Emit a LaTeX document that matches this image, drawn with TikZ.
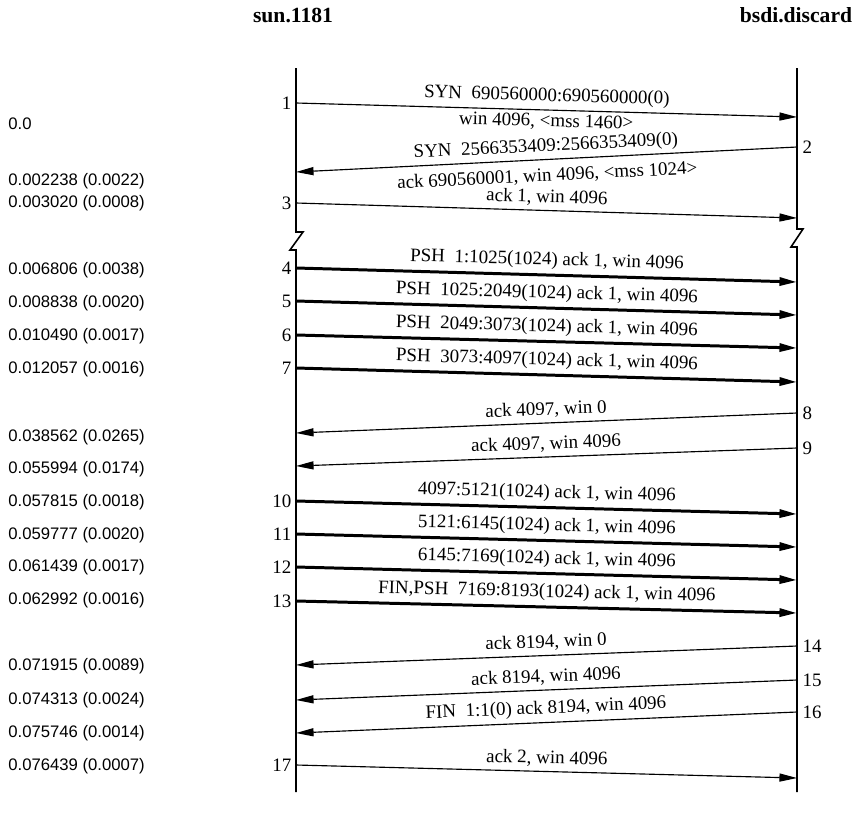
\documentclass[tikz,border=0pt]{standalone}
\usepackage{fontspec}
\setmainfont{Liberation Serif}
\newfontfamily\timefont{Liberation Sans}
\usepackage{tikz}
\usetikzlibrary{positioning, arrows.meta}

\begin{document}
\begin{tikzpicture}[
        x=0.02cm, y=-0.02cm,
        >={Triangle[length=10pt, width=4.6pt]},
        lifeline/.style={line width=0.9pt},
        msg/.style={->, line width=0.65pt},
        data/.style={->, line width=1.7pt},
        lbl/.style={font=\fontsize{10.8}{12}\selectfont, inner sep=1pt},
        num/.style={font=\fontsize{10.8}{12}\selectfont, inner sep=1pt},
        tstamp/.style={font=\timefont\fontsize{9.5}{11}\selectfont, anchor=west, inner sep=0pt},
        host/.style={font=\bfseries\fontsize{12.3}{14}\selectfont}
    ]
        \useasboundingbox (0,0) rectangle (858,815);

        % hosts
        \node[host] (sun)  at (293,15) {sun.1181};
        \node[host] (bsdi) at (796,15) {bsdi.discard};

        % time lines, broken once
        \coordinate (ltop) at (296,68);
        \coordinate (lbrk) at (296,232);
        \coordinate (lres) at (296,250);
        \coordinate (lbot) at (296,792);
        \coordinate (rtop) at (797,68);
        \coordinate (rbrk) at (797,229);
        \coordinate (rres) at (797,247);
        \coordinate (rbot) at (797,792);
        \draw[lifeline] (ltop) -- (lbrk) -- ++(7,0) -- ++(-13,18) -- (lres) -- (lbot);
        \draw[lifeline] (rtop) -- (rbrk) -- ++(6,0) -- ++(-12,18) -- (rres) -- (rbot);

        % segment end points
        \coordinate (a1) at (296,103);  \coordinate (b1) at (797,117);
        \coordinate (b2) at (797,147);  \coordinate (a2) at (296,172);
        \coordinate (a3) at (296,203);  \coordinate (b3) at (797,218);
        \coordinate (a4) at (296,268);  \coordinate (b4) at (797,282);
        \coordinate (a5) at (296,301);  \coordinate (b5) at (797,315);
        \coordinate (a6) at (296,335);  \coordinate (b6) at (797,348);
        \coordinate (a7) at (296,368);  \coordinate (b7) at (797,382);
        \coordinate (b8) at (797,413);  \coordinate (a8) at (296,433);
        \coordinate (b9) at (797,448);  \coordinate (a9) at (296,466);
        \coordinate (a10) at (296,501); \coordinate (b10) at (797,514);
        \coordinate (a11) at (296,534); \coordinate (b11) at (797,547);
        \coordinate (a12) at (296,567); \coordinate (b12) at (797,580);
        \coordinate (a13) at (296,601); \coordinate (b13) at (797,613);
        \coordinate (b14) at (797,646); \coordinate (a14) at (296,665);
        \coordinate (b15) at (797,680); \coordinate (a15) at (296,700);
        \coordinate (b16) at (797,712); \coordinate (a16) at (296,733);
        \coordinate (a17) at (296,765); \coordinate (b17) at (797,778);

        % segments
        \draw[msg]  (a1) -- node[lbl, above=1.5pt, sloped]{SYN~~690560000:690560000(0)}
                            node[lbl, below=1pt, sloped]{win 4096, <mss 1460>} (b1);
        \draw[msg]  (b2) -- node[lbl, above=1pt, sloped]{SYN~~2566353409:2566353409(0)}
                            node[lbl, below=3.5pt, sloped]{ack 690560001, win 4096, <mss 1024>} (a2);
        \draw[msg]  (a3) -- node[lbl, above=1.5pt, sloped]{ack 1, win 4096} (b3);
        \draw[data] (a4) -- node[lbl, above=1.5pt, sloped]{PSH~~1:1025(1024) ack 1, win 4096} (b4);
        \draw[data] (a5) -- node[lbl, above=1.5pt, sloped]{PSH~~1025:2049(1024) ack 1, win 4096} (b5);
        \draw[data] (a6) -- node[lbl, above=1.5pt, sloped]{PSH~~2049:3073(1024) ack 1, win 4096} (b6);
        \draw[data] (a7) -- node[lbl, above=1.5pt, sloped]{PSH~~3073:4097(1024) ack 1, win 4096} (b7);
        \draw[msg]  (b8) -- node[lbl, above=1.5pt, sloped]{ack 4097, win 0} (a8);
        \draw[msg]  (b9) -- node[lbl, above=1.5pt, sloped]{ack 4097, win 4096} (a9);
        \draw[data] (a10) -- node[lbl, above=1.5pt, sloped]{4097:5121(1024) ack 1, win 4096} (b10);
        \draw[data] (a11) -- node[lbl, above=1.5pt, sloped]{5121:6145(1024) ack 1, win 4096} (b11);
        \draw[data] (a12) -- node[lbl, above=1.5pt, sloped]{6145:7169(1024) ack 1, win 4096} (b12);
        \draw[data] (a13) -- node[lbl, above=1.5pt, sloped]{FIN,PSH~~7169:8193(1024) ack 1, win 4096} (b13);
        \draw[msg]  (b14) -- node[lbl, above=1.5pt, sloped]{ack 8194, win 0} (a14);
        \draw[msg]  (b15) -- node[lbl, above=1.5pt, sloped]{ack 8194, win 4096} (a15);
        \draw[msg]  (b16) -- node[lbl, above=1.5pt, sloped]{FIN~~1:1(0) ack 8194, win 4096} (a16);
        \draw[msg]  (a17) -- node[lbl, above=1.5pt, sloped]{ack 2, win 4096} (b17);

        % segment numbers
        \node[num, left=1.5pt of a1]  (n1)  {1};
        \node[num, right=2pt of b2] (n2)  {2};
        \node[num, left=1.5pt of a3]  (n3)  {3};
        \node[num, left=1.5pt of a4]  (n4)  {4};
        \node[num, left=1.5pt of a5]  (n5)  {5};
        \node[num, left=1.5pt of a6]  (n6)  {6};
        \node[num, left=1.5pt of a7]  (n7)  {7};
        \node[num, right=2pt of b8] (n8)  {8};
        \node[num, right=2pt of b9] (n9)  {9};
        \node[num, left=1.5pt of a10] (n10) {10};
        \node[num, left=1.5pt of a11] (n11) {11};
        \node[num, left=1.5pt of a12] (n12) {12};
        \node[num, left=1.5pt of a13] (n13) {13};
        \node[num, right=2pt of b14] (n14) {14};
        \node[num, right=2pt of b15] (n15) {15};
        \node[num, right=2pt of b16] (n16) {16};
        \node[num, left=1.5pt of a17] (n17) {17};

        % times
        \node[tstamp] (t1)  at (8,124) {0.0};
        \node[tstamp] (t2)  at (8,181) {0.002238 (0.0022)};
        \node[tstamp] (t3)  at (8,203) {0.003020 (0.0008)};
        \node[tstamp] (t4)  at (8,270) {0.006806 (0.0038)};
        \node[tstamp] (t5)  at (8,303) {0.008838 (0.0020)};
        \node[tstamp] (t6)  at (8,336) {0.010490 (0.0017)};
        \node[tstamp] (t7)  at (8,369) {0.012057 (0.0016)};
        \node[tstamp] (t8)  at (8,437) {0.038562 (0.0265)};
        \node[tstamp] (t9)  at (8,469) {0.055994 (0.0174)};
        \node[tstamp] (t10) at (8,502) {0.057815 (0.0018)};
        \node[tstamp] (t11) at (8,535) {0.059777 (0.0020)};
        \node[tstamp] (t12) at (8,567) {0.061439 (0.0017)};
        \node[tstamp] (t13) at (8,600) {0.062992 (0.0016)};
        \node[tstamp] (t14) at (8,666) {0.071915 (0.0089)};
        \node[tstamp] (t15) at (8,700) {0.074313 (0.0024)};
        \node[tstamp] (t16) at (8,733) {0.075746 (0.0014)};
        \node[tstamp] (t17) at (8,766) {0.076439 (0.0007)};
    \end{tikzpicture}
\end{document}
